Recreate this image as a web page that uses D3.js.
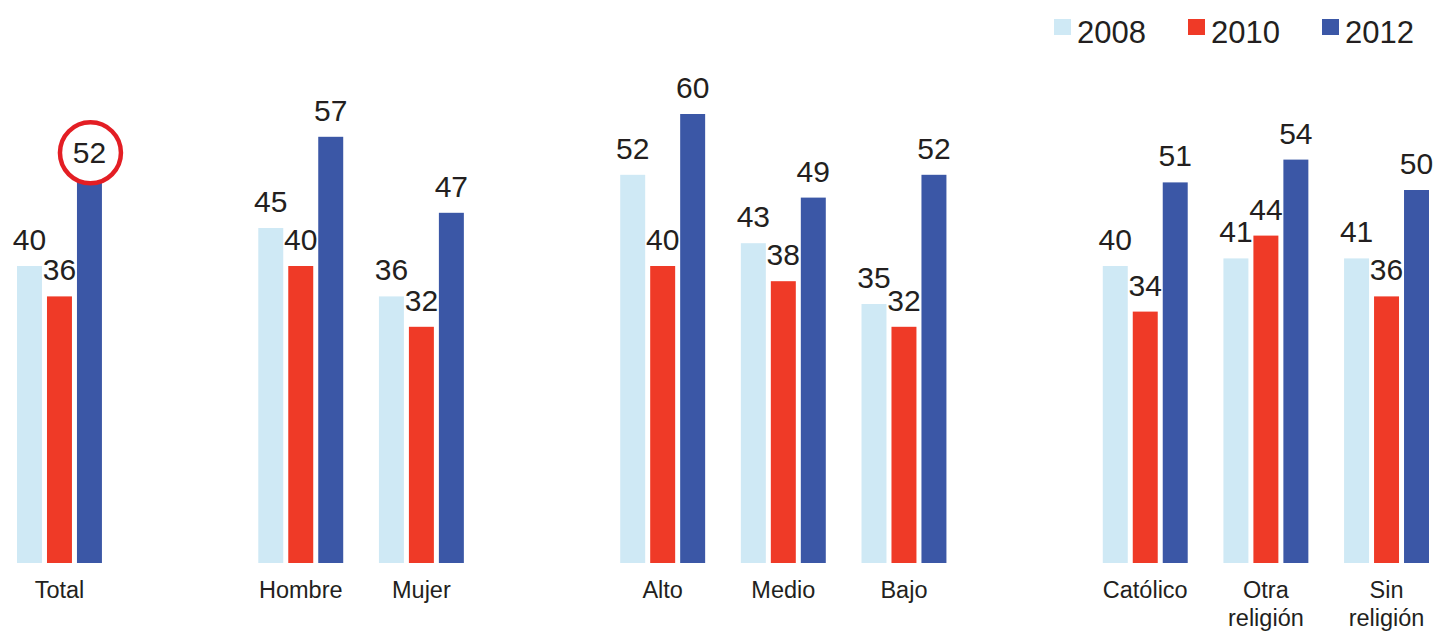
<!DOCTYPE html>
<html>
<head>
<meta charset="utf-8">
<script src="https://cdn.jsdelivr.net/npm/d3@7"></script>
<style>
  body { margin: 0; background: #fff; }
  svg { display: block; font-family: "Liberation Sans", Arial, sans-serif; }
</style>
</head>
<body>
<svg width="1436" height="631"></svg>
<script>
// datos
var categories = ["Total", "Hombre", "Mujer", "Alto", "Medio", "Bajo", "Católico", "Otra\nreligión", "Sin\nreligión"];
var groupSizes = [1, 2, 3, 3]; // bloques separados por un hueco
var years = ["2008", "2010", "2012"];
var values2008 = [40, 45, 36, 52, 43, 35, 40, 41, 41];
var values2010 = [36, 40, 32, 40, 38, 32, 34, 44, 36];
var values2012 = [52, 57, 47, 60, 49, 52, 51, 54, 50];
var colors = ["#cfe9f5", "#ef3a27", "#3b57a6"];
var highlight = { category: "Total", year: "2012" };

var svg = d3.select("svg"),
    width = 1436,
    height = 631,
    baseline = 563;

// dominio de posiciones con huecos entre bloques
var slots = [], k = 0;
groupSizes.forEach(function(n, gi) {
  if (gi > 0) slots.push("gap" + gi);
  for (var i = 0; i < n; i++) slots.push(categories[k++]);
});

var x0 = d3.scaleBand().domain(slots).range([17, 1429]).paddingInner(0.296).paddingOuter(0);
var x1 = d3.scaleBand().domain(years).range([0, x0.bandwidth()]).paddingInner(0.167);
// el cero queda un poco por debajo de la base visible (barras recortadas)
var y = d3.scaleLinear().domain([0, 60]).range([570, 114]);
var color = d3.scaleOrdinal().domain(years).range(colors);

var series = [values2008, values2010, values2012];
var data = categories.map(function(c, i) {
  return { cat: c, vals: years.map(function(yr, j) { return { cat: c, year: yr, value: series[j][i] }; }) };
});

function isHighlight(d) { return d.cat === highlight.category && d.year === highlight.year; }

var groups = svg.append("g").selectAll(".grp")
  .data(data)
  .enter().append("g")
    .attr("class", "grp")
    .attr("transform", function(d) { return "translate(" + x0(d.cat) + ",0)"; });

groups.selectAll("rect")
  .data(function(d) { return d.vals; })
  .enter().append("rect")
    .attr("x", function(d) { return x1(d.year); })
    .attr("y", function(d) { return y(d.value); })
    .attr("width", x1.bandwidth())
    .attr("height", function(d) { return baseline - y(d.value); })
    .style("fill", function(d) { return color(d.year); });

// etiquetas de valor (la destacada va dentro del circulo)
groups.selectAll("text.val")
  .data(function(d) { return d.vals.filter(function(v) { return !isHighlight(v); }); })
  .enter().append("text")
    .attr("class", "val")
    .attr("x", function(d) { return x1(d.year) + x1.bandwidth() / 2; })
    .attr("y", function(d) { return y(d.value) - 16; })
    .attr("text-anchor", "middle")
    .style("font-size", "30px")
    .style("fill", "#231f20")
    .text(function(d) { return d.value; });

// circulo destacado
var hd = data.find(function(d) { return d.cat === highlight.category; })
  .vals.find(isHighlight);
var hx = x0(hd.cat) + x1(hd.year) + x1.bandwidth() / 2;
var hy = y(hd.value) - 22;
svg.append("circle")
  .attr("cx", hx + 1)
  .attr("cy", hy)
  .attr("r", 30.5)
  .style("fill", "#fff")
  .style("stroke", "#e31e24")
  .style("stroke-width", 4.5);
svg.append("text")
  .attr("x", hx)
  .attr("y", hy + 10)
  .attr("text-anchor", "middle")
  .style("font-size", "30px")
  .style("fill", "#231f20")
  .text(hd.value);

// etiquetas de categoria
var catLabels = svg.append("g").selectAll(".cat")
  .data(categories)
  .enter().append("text")
    .attr("class", "cat")
    .attr("text-anchor", "middle")
    .attr("y", 598)
    .style("font-size", "23.5px")
    .style("fill", "#231f20");
catLabels.selectAll("tspan")
  .data(function(d) { return d.split("\n").map(function(t) { return { t: t, c: d }; }); })
  .enter().append("tspan")
    .attr("x", function(d) { return x0(d.c) + x0.bandwidth() / 2; })
    .attr("dy", function(d, i) { return i === 0 ? 0 : 28; })
    .text(function(d) { return d.t; });

// leyenda
var legendX = [1054, 1188, 1322];
var legend = svg.append("g").selectAll(".leg")
  .data(years)
  .enter().append("g")
    .attr("class", "leg")
    .attr("transform", function(d, i) { return "translate(" + legendX[i] + ",0)"; });
legend.append("rect")
  .attr("x", 0).attr("y", 19)
  .attr("width", 17).attr("height", 16)
  .style("fill", function(d) { return color(d); });
legend.append("text")
  .attr("x", 23).attr("y", 43)
  .style("font-size", "31px")
  .style("fill", "#231f20")
  .text(function(d) { return d; });
</script>
</body>
</html>
